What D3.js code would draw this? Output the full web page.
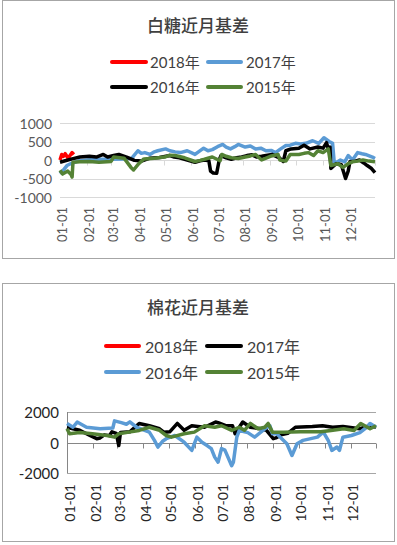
<!DOCTYPE html>
<html>
<head>
<meta charset="utf-8">
<script src="https://cdn.jsdelivr.net/npm/d3@7/dist/d3.min.js"></script>
<style>
  html, body { margin: 0; padding: 0; background: #fff; }
  svg { display: block; }
  text { font-family: "Lato", "Noto Sans CJK SC", sans-serif; }
</style>
</head>
<body>
<svg id="chart" width="397" height="545"></svg>
<script>
// ---- data ----
const monthTicks = ["01-01","02-01","03-01","04-01","05-01","06-01","07-01","08-01","09-01","10-01","11-01","12-01"];

const sugarTicks = [1000, 500, 0, -500, -1000];
const cottonTicks = [2000, 0, -2000];

const sugar2018 = [["01-01",0],["01-03",150],["01-05",100],["01-07",170],["01-10",60],["01-12",100],["01-15",200],["01-17",150]];
const sugar2017 = [["01-01",-370],["01-04",-300],["01-09",-150],["01-15",-80],["01-22",-30],["02-01",0],["02-15",20],["03-01",20],["03-15",30],["03-25",50],["04-01",250],["04-05",180],["04-09",200],["04-15",150],["04-20",220],["04-24",250],["05-03",300],["05-08",250],["05-14",220],["05-20",200],["05-28",250],["06-06",150],["06-10",220],["06-16",320],["06-21",250],["06-26",280],["07-02",360],["07-08",420],["07-12",350],["07-17",300],["07-22",360],["07-26",420],["08-03",350],["08-09",380],["08-15",300],["08-21",320],["08-27",250],["09-02",260],["09-07",200],["09-13",300],["09-19",390],["09-24",400],["09-30",450],["10-06",430],["10-12",450],["10-20",520],["10-27",450],["11-02",600],["11-08",500],["11-12",450],["11-14",-100],["11-21",0],["11-26",-50],["11-30",120],["12-05",0],["12-11",200],["12-16",170],["12-20",150],["12-28",80],["12-31",40]];
const sugar2016 = [["01-01",-60],["01-07",-20],["01-15",30],["01-24",80],["02-04",100],["02-12",80],["02-20",150],["02-25",80],["03-04",120],["03-10",150],["03-19",80],["03-28",-10],["04-05",-30],["04-15",50],["04-26",70],["05-08",120],["05-13",80],["05-19",60],["05-28",0],["06-06",-60],["06-12",-20],["06-17",0],["06-22",-20],["06-24",-300],["06-27",-350],["07-01",-360],["07-04",0],["07-06",120],["07-12",60],["07-18",20],["07-24",60],["07-30",80],["08-05",120],["08-11",140],["08-16",80],["08-22",100],["09-03",150],["09-12",50],["09-16",-40],["09-19",250],["09-25",300],["10-04",320],["10-10",400],["10-17",300],["10-26",350],["11-01",320],["11-05",470],["11-07",300],["11-09",350],["11-10",-230],["11-16",-100],["11-22",-120],["11-27",-500],["11-30",-300],["12-02",-50],["12-08",-30],["12-13",0],["12-18",-80],["12-22",-150],["12-27",-230],["12-31",-340]];
const sugar2015 = [["01-01",-280],["01-04",-380],["01-10",-300],["01-14",-400],["01-15",-460],["01-16",-60],["01-24",-50],["02-04",-40],["02-15",-60],["03-01",-40],["03-04",80],["03-16",50],["03-24",-200],["03-27",-270],["04-02",-100],["04-08",30],["04-20",50],["05-02",80],["05-08",130],["05-14",120],["05-25",60],["06-06",-40],["06-12",-10],["06-17",20],["06-26",80],["07-05",-20],["07-07",150],["07-12",100],["07-18",60],["07-26",40],["08-03",80],["08-09",110],["08-15",150],["08-22",0],["09-01",100],["09-10",150],["09-12",0],["09-19",-30],["09-24",150],["10-04",150],["10-10",180],["10-15",200],["10-21",120],["10-26",250],["11-01",200],["11-07",300],["11-10",-150],["11-18",-100],["11-24",-200],["11-30",-100],["12-05",-50],["12-11",-30],["12-17",0],["12-24",-30],["12-31",-50]];

const cotton2018 = [];
const cotton2017 = [["01-01",1000],["01-08",900],["01-16",800],["01-28",460],["02-05",250],["02-09",300],["02-14",500],["02-20",450],["02-23",700],["02-28",600],["03-03",-200],["03-05",650],["03-16",700],["03-27",1250],["04-08",1100],["04-20",900],["04-25",680],["05-02",700],["05-11",1250],["05-19",800],["05-28",1100],["06-04",1050],["06-12",1000],["06-25",1340],["06-28",1300],["07-07",1100],["07-15",1100],["07-18",570],["07-27",1340],["08-05",1000],["08-17",900],["08-24",800],["09-01",250],["09-04",300],["09-10",500],["09-18",600],["09-27",1000],["10-17",1050],["10-29",1100],["11-10",1000],["11-22",1050],["12-12",900],["12-24",1100],["12-31",1000]];
const cotton2016 = [["01-01",1250],["01-08",1000],["01-13",1340],["01-24",1000],["02-09",900],["02-24",950],["02-26",1420],["03-06",1300],["03-12",1200],["03-16",1350],["03-24",1000],["04-08",680],["04-14",140],["04-18",-300],["04-24",100],["04-28",250],["05-08",460],["05-19",20],["05-28",-520],["06-03",350],["06-09",20],["06-15",-200],["06-20",-400],["06-24",-960],["06-28",-1290],["07-02",-400],["07-06",-500],["07-14",-1520],["07-16",-1300],["07-20",350],["07-23",790],["08-02",650],["08-10",350],["08-22",900],["08-28",1100],["08-31",570],["09-05",570],["09-17",-80],["09-23",-850],["09-29",-80],["10-06",140],["10-23",350],["10-30",680],["11-05",100],["11-09",-520],["11-15",-300],["11-18",-520],["11-22",350],["12-02",460],["12-12",650],["12-20",1000],["12-24",1250],["12-31",1000]];
const cotton2015 = [["01-01",900],["01-04",570],["01-16",650],["01-31",570],["02-17",460],["02-26",350],["03-03",570],["03-15",680],["03-27",790],["04-08",1000],["04-20",800],["04-28",460],["05-04",350],["05-19",570],["05-31",680],["06-12",1100],["06-24",1000],["07-02",1100],["07-14",790],["07-23",1000],["07-29",800],["08-05",1250],["08-14",900],["08-22",1000],["08-26",1250],["08-31",680],["09-13",680],["10-03",700],["10-27",700],["11-08",790],["11-23",900],["12-05",790],["12-13",1250],["12-24",900],["12-31",1100]];

const red = "#ff0000";
const blue = "#5b9bd5";
const black = "#000000";
const green = "#548235";

const parseDay = d3.timeParse("%Y-%m-%d");
const day = s => parseDay("2001-" + s);

const svg = d3.select("#chart");

function drawChart(cfg) {
  const g = svg.append("g");

  // frame
  g.append("rect")
    .attr("x", cfg.frame[0] + 0.5).attr("y", cfg.frame[1] + 0.5)
    .attr("width", cfg.frame[2]).attr("height", cfg.frame[3])
    .style("fill", "#fff").style("stroke", "#a6a6a6");

  // title
  g.append("text")
    .attr("x", 198).attr("y", cfg.titleY)
    .attr("text-anchor", "middle").attr("dominant-baseline", "central")
    .style("font-size", "17px").style("font-weight", "500").style("fill", "#404040")
    .text(cfg.title);

  const x = d3.scaleTime()
    .domain([day("01-01"), day("12-31")])
    .range([cfg.left, cfg.right]);
  const y = d3.scaleLinear()
    .domain(cfg.yDomain)
    .range([cfg.bottom, cfg.top]);

  // grid
  g.selectAll(".grid")
    .data(cfg.yTicks.filter(v => !(cfg.axisLine && v === 0)))
    .enter().append("line")
    .attr("x1", cfg.left).attr("x2", cfg.right)
    .attr("y1", d => Math.round(y(d)) + 0.5).attr("y2", d => Math.round(y(d)) + 0.5)
    .style("stroke", cfg.gridColor).style("stroke-width", 1);

  // y labels
  g.selectAll(".ylab")
    .data(cfg.yTicks)
    .enter().append("text")
    .attr("x", cfg.left - 8).attr("y", d => y(d))
    .attr("text-anchor", "end").attr("dominant-baseline", "central")
    .style("font-size", cfg.yFont).style("fill", cfg.labelColor)
    .text(d => d);

  if (cfg.axisLine) {
    g.append("line")
      .attr("x1", cfg.left + 0.5).attr("x2", cfg.left + 0.5)
      .attr("y1", cfg.top).attr("y2", cfg.bottom)
      .style("stroke", cfg.axisColor);
  }

  // category axis at zero with month ticks
  const y0 = Math.round(y(0)) + 0.5;
  g.append("line")
    .attr("x1", cfg.left).attr("x2", cfg.right)
    .attr("y1", y0).attr("y2", y0)
    .style("stroke", cfg.axisColor);
  g.selectAll(".tick")
    .data(monthTicks.slice(1).concat(["12-31"]))
    .enter().append("line")
    .attr("x1", d => Math.round(x(day(d))) + 0.5).attr("x2", d => Math.round(x(day(d))) + 0.5)
    .attr("y1", y0).attr("y2", y0 + 5)
    .style("stroke", cfg.axisColor);

  // month labels
  g.selectAll(".xlab")
    .data(monthTicks)
    .enter().append("text")
    .attr("transform", d => `translate(${x(day(d)) + 2}, ${cfg.labelTop}) rotate(-90)`)
    .attr("text-anchor", "end").attr("dominant-baseline", "central")
    .style("font-size", cfg.xFont).style("fill", cfg.labelColor)
    .text(d => d);

  // lines, later series on top
  const line = d3.line()
    .x(d => x(day(d[0])))
    .y(d => y(d[1]));

  cfg.series.forEach(s => {
    if (!s.data.length) return;
    g.append("path")
      .datum(s.data)
      .attr("d", line)
      .style("fill", "none")
      .style("stroke", s.color)
      .style("stroke-width", cfg.lineWidth)
      .style("stroke-linejoin", "round");
  });

  // legend
  cfg.series.forEach((s, i) => {
    const col = i % 2, row = Math.floor(i / 2);
    const lx = cfg.legendX[col], ly = cfg.legendY[row];
    g.append("line")
      .attr("x1", lx[0]).attr("x2", lx[1])
      .attr("y1", ly).attr("y2", ly)
      .style("stroke", s.color).style("stroke-width", 4)
      .style("stroke-linecap", "round");
    g.append("text")
      .attr("x", lx[2]).attr("y", ly)
      .attr("dominant-baseline", "central")
      .style("font-size", cfg.legendFont).style("fill", "#404040")
      .text(s.name);
  });
}

drawChart({
  frame: [2, 0, 392, 258],
  title: "白糖近月基差",
  titleY: 25,
  left: 60, right: 375, top: 123, bottom: 197,
  yDomain: [-1000, 1000],
  yTicks: sugarTicks,
  gridColor: "#d9d9d9",
  axisColor: "#d9d9d9",
  axisLine: false,
  labelColor: "#595959",
  yFont: "14px",
  xFont: "13px",
  labelTop: 207,
  lineWidth: 3.5,
  legendX: [[112, 146, 150], [208, 241, 246]],
  legendY: [62, 87],
  legendFont: "15px",
  series: [
    {name: "2018年", color: red, data: sugar2018},
    {name: "2017年", color: blue, data: sugar2017},
    {name: "2016年", color: black, data: sugar2016},
    {name: "2015年", color: green, data: sugar2015}
  ]
});

drawChart({
  frame: [2, 283, 392, 258],
  title: "棉花近月基差",
  titleY: 307,
  left: 67, right: 376, top: 412, bottom: 473,
  yDomain: [-2000, 2000],
  yTicks: cottonTicks,
  gridColor: "#a6a6a6",
  axisColor: "#868686",
  axisLine: true,
  labelColor: "#262626",
  yFont: "15px",
  xFont: "14px",
  labelTop: 484,
  lineWidth: 3.5,
  legendX: [[106, 139, 145], [207, 241, 247]],
  legendY: [346, 372],
  legendFont: "16px",
  series: [
    {name: "2018年", color: red, data: cotton2018},
    {name: "2017年", color: black, data: cotton2017},
    {name: "2016年", color: blue, data: cotton2016},
    {name: "2015年", color: green, data: cotton2015}
  ]
});
</script>
</body>
</html>
